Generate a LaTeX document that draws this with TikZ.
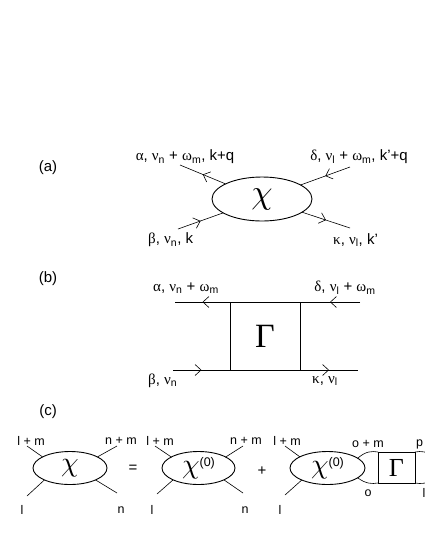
\documentclass[tikz,border=0pt]{standalone}
\usepackage{graphicx}
\usepackage{fontspec}
\setmainfont{Liberation Sans}
\newfontfamily\gk{Liberation Serif}
\usetikzlibrary{shapes.geometric,arrows.meta,decorations.markings}
\newcommand{\g}[1]{{\gk #1}}
\newcommand{\bigchi}[1]{\scalebox{#1}{$\chi$}}
\begin{document}
\begin{tikzpicture}[x=1pt,y=-1pt,
  lbl/.style={font=\fontsize{15}{17}\selectfont, inner sep=0pt},
  sml/.style={font=\fontsize{12.5}{14}\selectfont, inner sep=0pt},
  ln/.style={line width=0.6pt},
  shp/.style={line width=0.9pt},
  ell/.style={shp, draw, ellipse, inner sep=0pt, outer sep=0pt},
  sq/.style={shp, draw, rectangle, inner sep=0pt, outer sep=0pt},
  marr/.style={postaction={decorate}, decoration={markings,
     mark=at position 0.5 with {\arrow{Straight Barb[length=6pt,width=11pt]}}}}
]
\useasboundingbox (0,0) rectangle (425,550);
\clip (0,0) rectangle (425,550);

% ---------- (a)
\node[lbl] (tA) at (48,168) {(a)};
\node[ell, minimum width=100, minimum height=44] (chiA) at (262,199) {\bigchi{3.4}};
\coordinate (aUL) at (180,165);
\coordinate (aUR) at (350,167);
\coordinate (aLL) at (178,229);
\coordinate (aLR) at (350,228);
\draw[ln, marr] (chiA) -- (aUL);
\draw[ln, marr] (aUR) -- (chiA);
\draw[ln, marr] (aLL) -- (chiA);
\draw[ln, marr] (chiA) -- (aLR);
\node[lbl] (la1) at (185,157) {\g{α}, \g{ν}\textsubscript{n} + \g{ω}\textsubscript{m}, k+q};
\node[lbl] (la2) at (359,157) {\g{δ}, \g{ν}\textsubscript{l} + \g{ω}\textsubscript{m}, k'+q};
\node[lbl, anchor=west] (la3) at (148,240) {\g{β}, \g{ν}\textsubscript{n}, k};
\node[lbl, anchor=west] (la4) at (333,240) {\g{κ}, \g{ν}\textsubscript{l}, k'};

% ---------- (b)
\node[lbl] (tB) at (48,279) {(b)};
\node[sq, minimum width=70, minimum height=68, font=\gk\fontsize{34}{36}\selectfont] (G) at (265,336) {Γ};
\coordinate (bTL) at (175,302);
\coordinate (bTR) at (360,302);
\coordinate (bBL) at (173,370);
\coordinate (bBR) at (358,370);
\draw[ln, marr] (G.north west) -- (bTL);
\draw[ln, marr] (bTR) -- (G.north east);
\draw[ln, marr] (bBL) -- (G.south west);
\draw[ln, marr] (G.south east) -- (bBR);
\node[lbl] (lb1) at (186,288) {\g{α}, \g{ν}\textsubscript{n} + \g{ω}\textsubscript{m}};
\node[lbl] (lb2) at (345,288) {\g{δ}, \g{ν}\textsubscript{l} + \g{ω}\textsubscript{m}};
\node[lbl, anchor=west] (lb3) at (148,381) {\g{β}, \g{ν}\textsubscript{n}};
\node[lbl, anchor=west] (lb4) at (312,381) {\g{κ}, \g{ν}\textsubscript{l}};

% ---------- (c)
\node[lbl] (tC) at (48,412) {(c)};
\node[ell, minimum width=74, minimum height=33] (E1) at (70,468) {\bigchi{2.8}};
\node[ell, minimum width=73, minimum height=33] (E2) at (198.5,468) {\bigchi{2.8}\raisebox{7pt}{\fontsize{12.5}{14}\selectfont (0)}};
\node[ell, minimum width=75, minimum height=33] (E3) at (327.5,468) {\bigchi{2.8}\raisebox{7pt}{\fontsize{12.5}{14}\selectfont (0)}};
\node[sq, minimum width=37, minimum height=31, font=\gk\fontsize{26}{28}\selectfont] (G2) at (396.5,467.5) {Γ};

\coordinate (e1ul) at (27,446);
\coordinate (e1ll) at (27,496);
\coordinate (e1ur) at (117,446);
\coordinate (e1lr) at (117,493);
\draw[ln] (E1.158) -- (e1ul);
\draw[ln] (E1.205) -- (e1ll);
\draw[ln] (E1.22) -- (e1ur);
\draw[ln] (E1.-25) -- (e1lr);

\coordinate (e2ul) at (155,446);
\coordinate (e2ll) at (157,494);
\coordinate (e2ur) at (243,446);
\coordinate (e2lr) at (243,493);
\draw[ln] (E2.158) -- (e2ul);
\draw[ln] (E2.205) -- (e2ll);
\draw[ln] (E2.22) -- (e2ur);
\draw[ln] (E2.-25) -- (e2lr);

\coordinate (e3ul) at (285,446);
\coordinate (e3ll) at (285,495);
\draw[ln] (E3.158) -- (e3ul);
\draw[ln] (E3.205) -- (e3ll);

\draw[ln] (E3.18) .. controls (366,451) and (372,451) .. (G2.north west);
\draw[ln] (E3.-18) .. controls (366,484) and (372,484) .. (G2.south west);
\coordinate (nxtT) at (433,457);
\coordinate (nxtB) at (433,479);
\draw[ln] (G2.north east) .. controls (421,451) and (427,451) .. (nxtT);
\draw[ln] (G2.south east) .. controls (421,484) and (427,484) .. (nxtB);

\node[sml] (c1) at (31,441) {l + m};
\node[sml] (c2) at (121,441) {n + m};
\node[sml] (c3) at (22,510) {l};
\node[sml] (c4) at (121,510) {n};
\node[lbl] (eq) at (133,469) {=};
\node[sml] (c5) at (160,441) {l + m};
\node[sml] (c6) at (246,441) {n + m};
\node[sml] (c7) at (152,510) {l};
\node[sml] (c8) at (245,510) {n};
\node[lbl] (pl) at (262,471) {+};
\node[sml] (c9) at (287,441) {l + m};
\node[sml] (c10) at (280,510) {l};
\node[sml] (c11) at (368,444) {o + m};
\node[sml] (c12) at (368,493) {o};
\node[sml, anchor=west] (c13) at (416,444) {p};
\node[sml] (c14) at (424,493) {l};
\end{tikzpicture}
\end{document}
